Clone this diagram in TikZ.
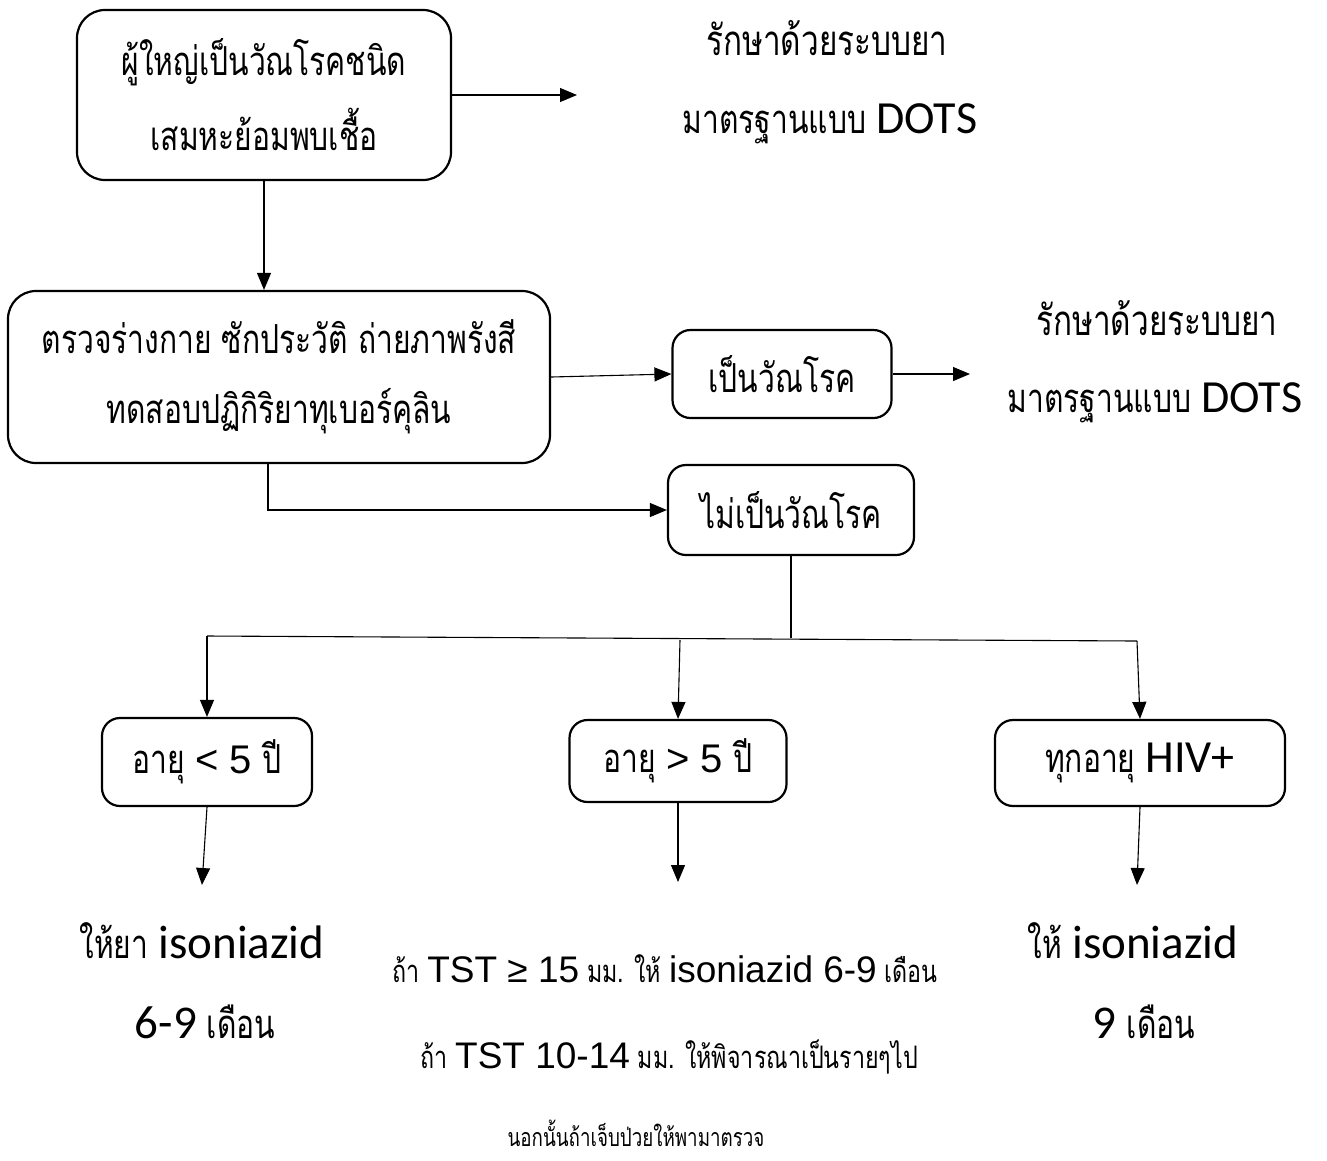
\documentclass[tikz,border=0pt]{standalone}
\usepackage{fontspec}
\usetikzlibrary{arrows.meta}
\newfontfamily\thai[Script=Thai,FakeStretch=0.75]{Loma}
\newfontfamily\calib{Carlito}
\newfontfamily\ari{Liberation Sans}
\begin{document}
\begin{tikzpicture}[x=1pt,y=-1pt,
  box/.style={draw, line width=2.2pt, rounded corners=18pt, inner sep=0pt, align=center},
  bigbox/.style={box, rounded corners=28pt},
  conn/.style={line width=1.1pt},
  arr/.style={conn, -{Triangle[length=17pt,width=14pt]}},
  lbl/.style={inner sep=0pt, anchor=base},
  tf/.style={font=\thai\fontsize{40}{75}\selectfont},
  sf/.style={font=\thai\fontsize{31}{40}\selectfont}]
\useasboundingbox (0,0) rectangle (1327,1160);
\fill[white] (0,0) rectangle (1327,1160);

\node[bigbox, tf, minimum width=374pt, minimum height=170pt] (b1) at (264,95)
  {ผู้ใหญ่เป็นวัณโรคชนิด\\เสมหะย้อมพบเชื้อ};
\node[bigbox, font=\thai\fontsize{40}{70}\selectfont, minimum width=542pt, minimum height=172pt] (b2) at (279,377)
  {ตรวจร่างกาย ซักประวัติ ถ่ายภาพรังสี\\ทดสอบปฏิกิริยาทุเบอร์คุลิน};
\node[box, tf, minimum width=219pt, minimum height=88pt] (tb) at (782,374) {เป็นวัณโรค};
\node[box, tf, minimum width=246pt, minimum height=90pt] (ntb) at (791,510) {ไม่เป็นวัณโรค};
\node[box, tf, minimum width=210pt, minimum height=88pt] (a1) at (207,762) {อายุ {\ari\fontsize{40}{40}\selectfont< 5} ปี};
\node[box, tf, minimum width=217pt, minimum height=82pt] (a2) at (678,761) {อายุ {\ari\fontsize{40}{40}\selectfont> 5} ปี};
\node[box, tf, minimum width=290pt, minimum height=86pt] (a3) at (1140,763) {ทุกอายุ {\calib\fontsize{46}{40}\selectfont HIV+}};

% treatment texts
\node[lbl, font=\thai\fontsize{42}{40}\selectfont] (r1a) at (827,55) {รักษาด้วยระบบยา};
\node[lbl, tf] (r1b) at (830,133) {มาตรฐานแบบ {\calib\fontsize{46}{40}\selectfont DOTS}};
\node[lbl, font=\thai\fontsize{42}{40}\selectfont] (r2a) at (1157,335) {รักษาด้วยระบบยา};
\node[lbl, tf] (r2b) at (1155,412) {มาตรฐานแบบ {\calib\fontsize{46}{40}\selectfont DOTS}};

% results
\node[lbl, tf] (s1a) at (202,958) {ให้ยา {\calib\fontsize{47}{40}\selectfont isoniazid}};
\node[lbl, tf] (s1b) at (205,1038) {{\calib\fontsize{47}{40}\selectfont 6-9} เดือน};
\node[lbl, sf] (s2a) at (665,982) {ถ้า {\ari\fontsize{37}{40}\selectfont TST ≥ 15} มม. ให้ {\ari\fontsize{37}{40}\selectfont isoniazid 6-9} เดือน};
\node[lbl, sf] (s2b) at (669,1068) {ถ้า {\ari\fontsize{37}{40}\selectfont TST 10-14} มม. ให้พิจารณาเป็นรายๆไป};
\node[lbl, font=\thai\fontsize{25}{30}\selectfont] (s2c) at (636,1146) {นอกนั้นถ้าเจ็บป่วยให้พามาตรวจ};
\node[lbl, tf] (s3a) at (1133,958) {ให้ {\calib\fontsize{47}{40}\selectfont isoniazid}};
\node[lbl, tf] (s3b) at (1144,1038) {{\calib\fontsize{47}{40}\selectfont 9} เดือน};

% free ends
\coordinate (e1) at (577,95);
\coordinate (e2) at (970,374);
\coordinate (j) at (791,638);
\coordinate (hL) at (207,636);
\coordinate (hM) at (680,640);
\coordinate (hR) at (1137,641);
\coordinate (d1) at (202,885);
\coordinate (d2) at (678,882);
\coordinate (d3) at (1137,885);

\draw[arr] (b1.east) -- (e1);
\draw[arr] (b1.south) -- (b1.south |- b2.north);
\draw[arr] (b2.east) -- (tb.west);
\draw[arr] (tb.east) -- (e2);
\draw[arr] ([xshift=-11pt]b2.south) |- (ntb.west);
\draw[conn] (ntb.south) -- (j);
\draw[conn] (hL) -- (hR);
\draw[arr] (hL) -- (a1.north);
\draw[arr] (hM) -- (a2.north);
\draw[arr] (hR) -- (a3.north);
\draw[arr] (a1.south) -- (d1);
\draw[arr] (a2.south) -- (d2);
\draw[arr] (a3.south) -- (d3);
\end{tikzpicture}
\end{document}
